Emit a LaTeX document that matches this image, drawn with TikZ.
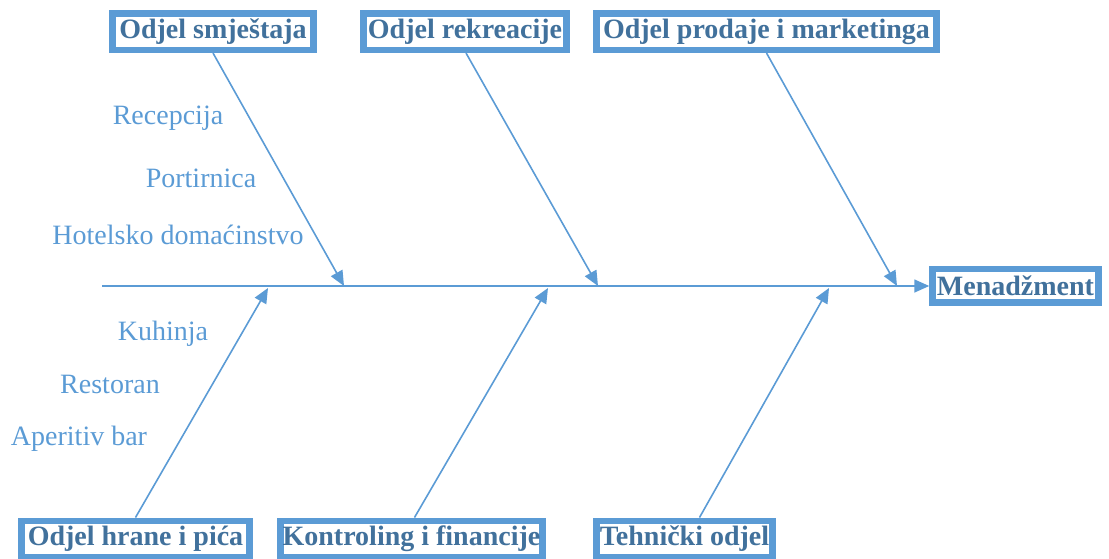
\documentclass[tikz,border=0pt]{standalone}
\usepackage{fontspec}
\setmainfont{Liberation Serif}
\usetikzlibrary{arrows.meta}
\definecolor{bord}{HTML}{5B9BD5}
\definecolor{btext}{HTML}{41719C}
\begin{document}
\begin{tikzpicture}[x=1pt,y=-1pt,
  dept/.style={draw=bord, line width=6.5pt, fill=white, text=btext, inner sep=0pt,
    font=\fontsize{28}{30}\selectfont\bfseries, minimum height=36.5pt},
  sub/.style={text=bord, inner sep=0pt, font=\fontsize{28}{30}\selectfont},
  bone/.style={draw=bord, line width=1.6pt, -{Triangle[length=15pt,width=13pt]}}]
\useasboundingbox (0,0) rectangle (1109,558);
% department boxes
\node[dept, minimum width=201pt] (b1) at (213,31.5) {Odjel smještaja};
\node[dept, minimum width=203pt] (b2) at (465,31.5) {Odjel rekreacije};
\node[dept, minimum width=340pt] (b3) at (766.5,31.5) {Odjel prodaje i marketinga};
\node[dept, minimum width=166pt, minimum height=33.5pt] (m) at (1015.5,285.5) {Menadžment};
\node[dept, minimum width=228pt] (b4) at (135.5,539) {Odjel hrane i pića};
\node[dept, minimum width=262pt] (b5) at (411.5,539) {Kontroling i financije};
\node[dept, minimum width=176pt] (b6) at (684.5,539) {Tehnički odjel};
% spine
\coordinate (s0) at (102,286);
\draw[bone] (s0) -- (m.west |- s0);
% spine targets
\coordinate (t1) at (344,286);
\coordinate (t2) at (598,286);
\coordinate (t3) at (897,286);
\coordinate (t4) at (268,288);
\coordinate (t5) at (548,288);
\coordinate (t6) at (829,288);
\draw[bone] (b1.south) -- (t1);
\draw[bone] ([xshift=1pt]b2.south) -- (t2);
\draw[bone] (b3.south) -- (t3);
\draw[bone] (b4.north) -- (t4);
\draw[bone] ([xshift=3pt]b5.north) -- (t5);
\draw[bone] ([xshift=15pt]b6.north) -- (t6);
% sub labels
\node[sub] (l1) at (168,118) {Recepcija};
\node[sub] (l2) at (201,178) {Portirnica};
\node[sub] (l3) at (178,235) {Hotelsko domaćinstvo};
\node[sub] (l4) at (163,334) {Kuhinja};
\node[sub] (l5) at (110,384) {Restoran};
\node[sub] (l6) at (79,439) {Aperitiv bar};
\end{tikzpicture}
\end{document}
